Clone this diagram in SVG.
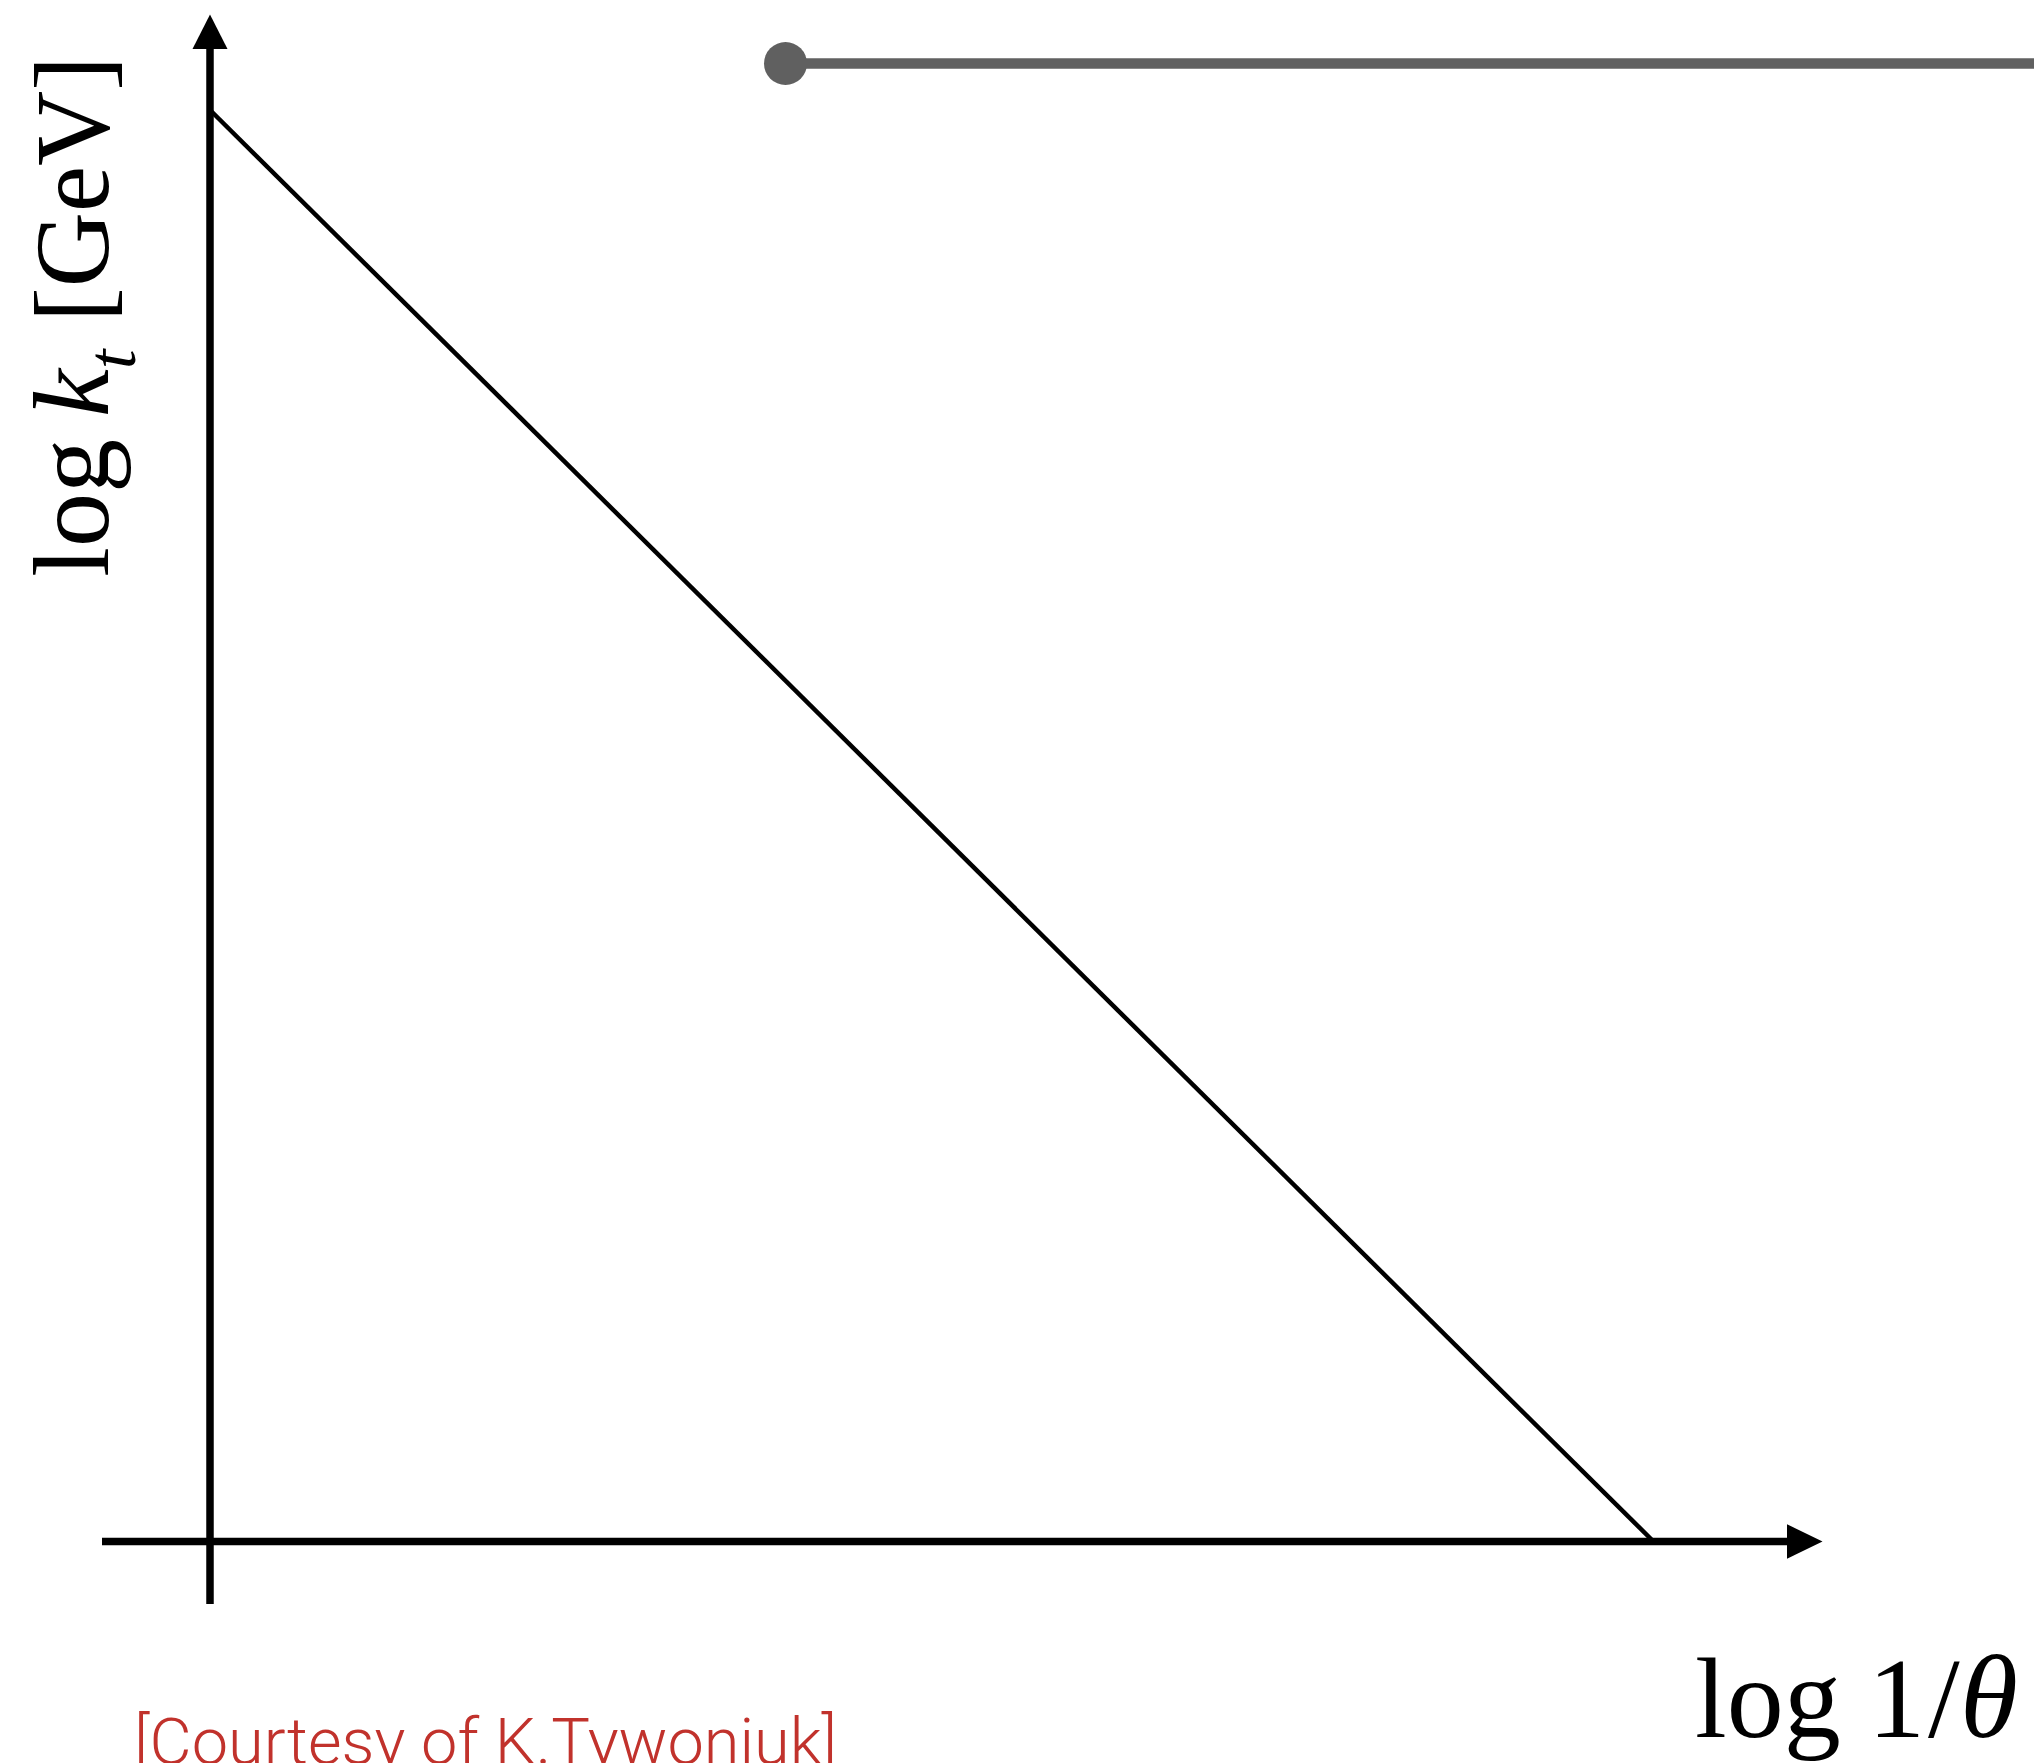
<svg xmlns="http://www.w3.org/2000/svg" width="2034" height="1763" viewBox="0 0 2034 1763">
<style>
.ax{stroke:#000;stroke-width:7.5;fill:none}
.diag{stroke:#000;stroke-width:4.5;fill:none;stroke-linecap:butt}
.serif{font-family:"Liberation Serif","Times New Roman",serif;fill:#000}
.credit{font-family:Roboto,"Liberation Sans",sans-serif;font-weight:300;fill:#C1322C}
</style>
<rect width="2034" height="1763" fill="#fff"/>
<g id="connectors">
  <line class="diag" x1="211" y1="111" x2="1655" y2="1543"/>
  <line class="ax" x1="210" y1="46" x2="210" y2="1604"/>
  <polygon points="210,14.5 192.5,49 227.5,49" fill="#000"/>
  <line class="ax" x1="102" y1="1541.5" x2="1790" y2="1541.5"/>
  <polygon points="1822.5,1541.5 1787,1524.2 1787,1558.8" fill="#000"/>
  <line x1="785" y1="63.5" x2="2034" y2="63.5" stroke="#606060" stroke-width="10.7"/>
</g>
<g id="node-start">
  <circle cx="785.5" cy="63.5" r="21.5" fill="#606060"/>
</g>
<g id="label-y">
  <text class="serif" transform="rotate(-90)" y="108" font-size="108"><tspan x="-577">log</tspan><tspan x="-417" font-style="italic">k</tspan><tspan x="-369" dy="27" font-size="70" font-style="italic">t</tspan></text>
  <text class="serif" transform="rotate(-90)" x="-322" y="108" font-size="106" textLength="266" lengthAdjust="spacingAndGlyphs">[GeV]</text>
</g>
<g id="label-x">
  <text class="serif" y="1737" font-size="114"><tspan x="1695">log</tspan><tspan x="1868">1</tspan><tspan x="1928">/</tspan><tspan x="1960" font-style="italic" font-size="118">θ</tspan></text>
</g>
<g id="credit">
  <text class="credit" x="134" y="1764" font-size="64" textLength="703" lengthAdjust="spacingAndGlyphs">[Courtesy of K.Tywoniuk]</text>
</g>
</svg>
